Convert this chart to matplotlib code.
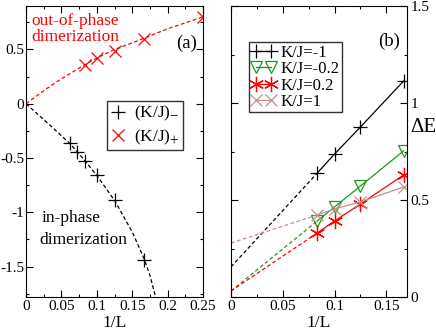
import matplotlib
matplotlib.use("Agg")
import matplotlib.pyplot as plt
import numpy as np
from matplotlib.ticker import MultipleLocator

plt.rcParams['font.family'] = ['Liberation Serif', 'DejaVu Serif']
plt.rcParams['mathtext.fontset'] = 'stix'
plt.rcParams['font.size'] = 12.5

# ---- panel (a) data ----
xa_minus = [1/16, 1/14, 1/12, 1/10, 1/8, 1/6]
ya_minus = [-0.36, -0.44, -0.53, -0.66, -0.89, -1.44]
xa_plus = [1/12, 1/10, 1/8, 1/6, 1/4]
ya_plus = [0.36, 0.42, 0.49, 0.60, 0.80]
# fitted (dashed) curves
fit_minus_x = [0, 0.03, 0.0625, 0.08, 0.1, 0.125, 0.15, 0.167, 0.175, 0.183]
fit_minus_y = [0, -0.175, -0.37, -0.5, -0.66, -0.89, -1.18, -1.43, -1.58, -1.78]
fit_plus_x = [0, 0.025, 0.05, 0.083, 0.1, 0.125, 0.15, 0.2, 0.25]
fit_plus_y = [0, 0.12, 0.23, 0.36, 0.42, 0.50, 0.56, 0.69, 0.80]

# ---- panel (b) data ----
xb = [1/12, 1/10, 1/8, 1/6]
gap_m1 = [0.639, 0.737, 0.876, 1.113]
gap_m02 = [0.392, 0.464, 0.572, 0.753]
gap_p02 = [0.330, 0.392, 0.479, 0.629]
gap_p1 = [0.423, 0.454, 0.490, 0.567]
intercepts = [0.155, 0.031, 0.031, 0.278]
labels_b = ['K/J=-1', 'K/J=-0.2', 'K/J=0.2', 'K/J=1']

fig = plt.figure(figsize=(4.36, 3.34), dpi=100)
W, H = 436, 334
axa = fig.add_axes([26/W, 37/H, 177/W, 291/H])
axb = fig.add_axes([231/W, 37/H, 176/W, 291/H])

for ax in (axa, axb):
    ax.tick_params(which='both', direction='in', top=True, right=True, labelsize=11)
    ax.tick_params(which='major', length=5, width=0.8, pad=2.5)
    ax.tick_params(which='minor', length=2.5, width=0.8)
    for s in ax.spines.values():
        s.set_linewidth(0.8)

# panel (a)
axa.plot(fit_plus_x, fit_plus_y, ls=(0, (3, 2)), color='red', lw=0.9)
axa.plot(fit_minus_x, fit_minus_y, ls=(0, (3, 2)), color='black', lw=0.9)
axa.plot(xa_minus, ya_minus, ls='none', marker='+', ms=10, mew=0.9, color='black',
         label=r'(K/J)$_{-}$')
axa.plot(xa_plus, ya_plus, ls='none', marker='x', ms=8, mew=0.9, color='red',
         label=r'(K/J)$_{+}$')
axa.set_xlim(0, 0.25)
axa.set_ylim(-1.78, 0.90)
axa.xaxis.set_minor_locator(MultipleLocator(0.025))
axa.yaxis.set_minor_locator(MultipleLocator(0.25))
axa.set_xticks([0, 0.05, 0.1, 0.15, 0.2, 0.25])
axa.set_xticklabels(['0', '0.05', '0.1', '0.15', '0.2', '0.25'])
axa.set_yticks([-1.5, -1, -0.5, 0, 0.5])
axa.set_yticklabels(['-1.5', '-1', '-0.5', '0', '0.5'])
axa.tick_params(axis='y', which='major', pad=1.2)
axa.set_xlabel('1/L', labelpad=1)
axa.legend(loc='upper left', bbox_to_anchor=(0.455, 0.675), frameon=True, fancybox=False,
           edgecolor='black', handlelength=0.9, handletextpad=0.5, borderpad=0.2,
           labelspacing=0.25, borderaxespad=0)
axa.text(0.03, 0.975, 'out-of-phase\ndimerization', transform=axa.transAxes, color='red',
         ha='left', va='top', linespacing=1.0)
axa.text(0.965, 0.9, '(a)', transform=axa.transAxes, ha='right', va='top', fontsize=13.5)
axa.text(0.09, 0.27, 'in-phase', transform=axa.transAxes, ha='left', va='center')
axa.text(0.075, 0.195, 'dimerization', transform=axa.transAxes, ha='left', va='center')

# panel (b)
cols = ['black', '#1a9a1a', 'red', '#c09090']
markers = ['+', 'v', (6, 2, 0), 'x']
msz = [10, 9, 11, 8]
gaps = [gap_m1, gap_m02, gap_p02, gap_p1]
for g, c, m, s, lab, b0 in zip(gaps, cols, markers, msz, labels_b, intercepts):
    axb.plot([0, xb[0]], [b0, g[0]], ls=(0, (3, 2)), color=c, lw=0.9)
    mfc = 'none' if m == 'v' else c
    axb.plot(xb, g, color=c, lw=0.9, marker=m, ms=s, mew=0.9, mfc=mfc, label=lab)
axb.set_xlim(0, 0.17)
axb.set_ylim(0, 1.5)
axb.xaxis.set_minor_locator(MultipleLocator(0.025))
axb.yaxis.set_minor_locator(MultipleLocator(0.25))
axb.set_xticks([0, 0.05, 0.1, 0.15])
axb.set_xticklabels(['0', '0.05', '0.1', '0.15'])
axb.set_yticks([0, 0.5, 1, 1.5])
axb.set_yticklabels(['0', '0.5', '1', '1.5'])
axb.tick_params(axis='y', labelleft=False, labelright=True)
axb.set_xlabel('1/L', labelpad=1)
axb.yaxis.set_label_position('right')
axb.set_ylabel('ΔE', rotation=0, ha='center', va='center', fontsize=15)
axb.yaxis.set_label_coords(1.09, 0.584)
axb.legend(loc='upper left', bbox_to_anchor=(0.1, 0.875), frameon=True, fancybox=False,
           edgecolor='black', numpoints=2, handlelength=1.5, handletextpad=0.25,
           borderpad=0.15, labelspacing=0.02, borderaxespad=0, fontsize=12)
axb.text(0.96, 0.91, '(b)', transform=axb.transAxes, ha='right', va='top', fontsize=13.5)

fig.savefig('out.png', dpi=100)
